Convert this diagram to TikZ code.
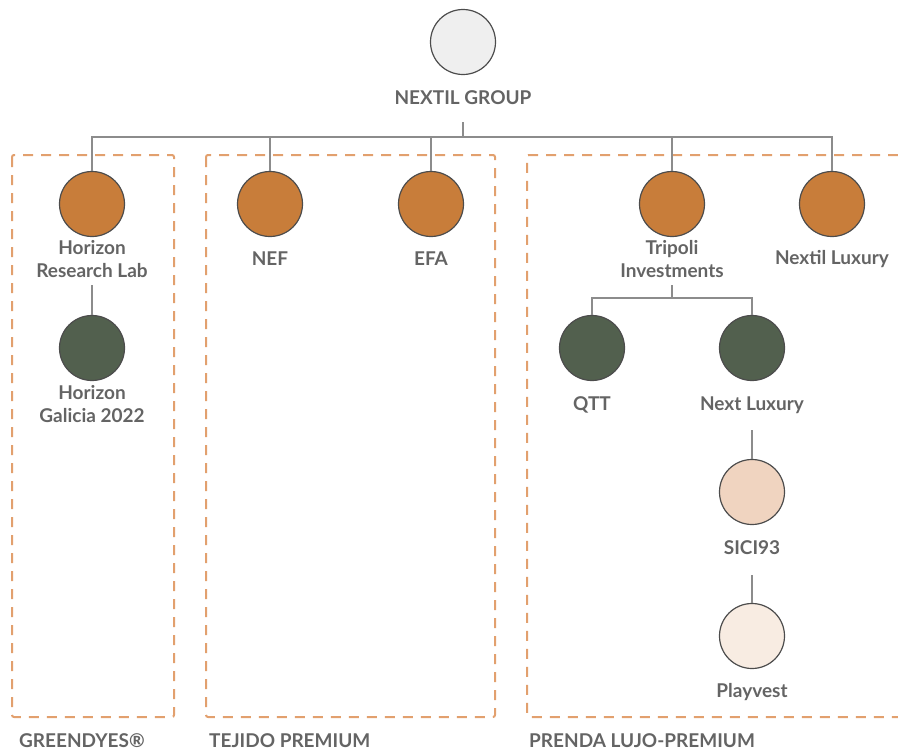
\documentclass[tikz,border=0pt]{standalone}
\usepackage{fontspec}
\setmainfont{Lato}
\definecolor{orangec}{RGB}{200,125,58}
\definecolor{greenc}{RGB}{82,96,78}
\definecolor{peachc}{RGB}{240,212,192}
\definecolor{creamc}{RGB}{248,236,226}
\definecolor{greyc}{RGB}{239,239,239}
\definecolor{txt}{RGB}{100,100,100}
\definecolor{dashc}{RGB}{226,160,110}
\definecolor{linec}{RGB}{140,140,140}
\begin{document}
\begin{tikzpicture}[x=1pt,y=-1pt,
  circ/.style={circle,draw=black!70,line width=1.2pt,minimum size=65pt,inner sep=0pt},
  lbl/.style={text=txt,font=\fontsize{19}{23}\selectfont\bfseries,align=center,inner sep=0pt},
  conn/.style={draw=linec,line width=1.1pt},
  grp/.style={draw=dashc,line width=2pt,dash pattern=on 10pt off 8pt,rounded corners=2pt}]
\useasboundingbox (0,0) rectangle (898,753);
% groups
\draw[grp] (12,155) rectangle (174,717);
\draw[grp] (206,155) rectangle (495,717);
\draw[grp] (898,155) -- (527,155) -- (527,717) -- (898,717);
\node[lbl,anchor=west] (gl1) at (19,741) {GREENDYES®};
\node[lbl,anchor=west] (gl2) at (209,741) {TEJIDO PREMIUM};
\node[lbl,anchor=west] (gl3) at (529,741) {PRENDA LUJO-PREMIUM};
% nodes
\node[circ,fill=greyc] (ng) at (463,42) {};
\node[lbl] (ngl) at (463,98) {NEXTIL GROUP};
\node[circ,fill=orangec] (hr) at (92,204) {};
\node[lbl] (hrl) at (92,259) {Horizon\\Research Lab};
\node[circ,fill=greenc] (hg) at (92,348) {};
\node[lbl] (hgl) at (92,404) {Horizon\\Galicia 2022};
\node[circ,fill=orangec] (nef) at (270,204) {};
\node[lbl] (nefl) at (270,259) {NEF};
\node[circ,fill=orangec] (efa) at (431,204) {};
\node[lbl] (efal) at (431,259) {EFA};
\node[circ,fill=orangec] (tr) at (672,204) {};
\node[lbl] (trl) at (672,259) {Tripoli\\Investments};
\node[circ,fill=orangec] (nl) at (832,204) {};
\node[lbl] (nll) at (832,259) {Nextil Luxury};
\node[circ,fill=greenc] (qtt) at (592,348) {};
\node[lbl] (qttl) at (592,405) {QTT};
\node[circ,fill=greenc] (nx) at (752,348) {};
\node[lbl] (nxl) at (752,405) {Next Luxury};
\node[circ,fill=peachc] (si) at (752,492) {};
\node[lbl] (sil) at (752,548) {SICI93};
\node[circ,fill=creamc] (pv) at (752,636) {};
\node[lbl] (pvl) at (752,692) {Playvest};
% connectors
\coordinate (top) at (463,122);
\coordinate (bus) at (463,137);
\coordinate (tbus) at (672,298);
\draw[conn] (top) -- (bus);
\draw[conn] (hr.north) |- (bus) -| (nl.north);
\draw[conn] (nef.north) -- (nef.north |- bus);
\draw[conn] (efa.north) -- (efa.north |- bus);
\draw[conn] (tr.north) -- (tr.north |- bus);
\draw[conn] (92,285) -- (hg.north);
\draw[conn] (672,285) -- (tbus);
\draw[conn] (qtt.north) |- (tbus) -| (nx.north);
\draw[conn] (752,430) -- (si.north);
\draw[conn] (752,575) -- (pv.north);
\end{tikzpicture}
\end{document}
